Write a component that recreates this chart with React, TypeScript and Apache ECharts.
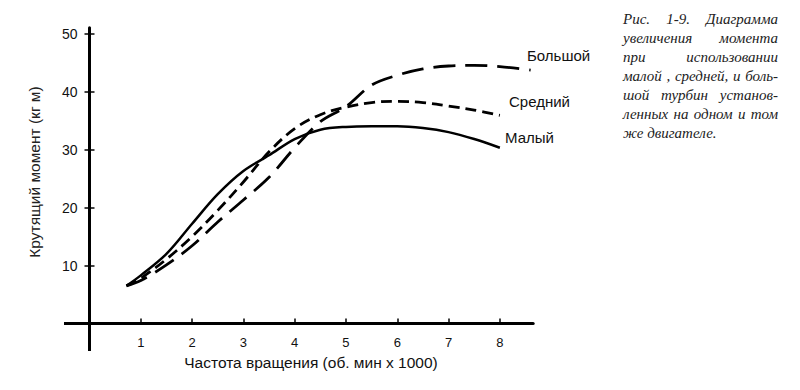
import React, { useEffect, useRef } from "react";
import * as echarts from "echarts";

// Tick labels
const xTicks = [1, 2, 3, 4, 5, 6, 7, 8];
const yTicks = [10, 20, 30, 40, 50];

// Series (x in thousands rpm, y in kg·m)
const xSmall = [0.72, 1, 1.5, 2, 2.5, 3, 3.5, 4, 4.5, 5, 5.5, 6, 6.5, 7, 7.5, 8];
const smallVals = [6.5, 8.3, 12.0, 17.2, 22.3, 26.3, 29.0, 31.8, 33.4, 33.9, 34.0, 34.0, 33.7, 33.0, 31.8, 30.3];

const xMedium = [0.72, 1, 1.5, 2, 2.5, 3, 3.5, 4, 4.5, 5, 5.5, 6, 6.5, 7, 7.5, 8];
const mediumVals = [6.5, 7.8, 11.1, 15.0, 19.5, 24.4, 29.6, 33.6, 36.0, 37.3, 38.1, 38.3, 38.1, 37.5, 36.8, 35.9];

const xLarge = [0.72, 1, 1.5, 2, 2.5, 3, 3.5, 4, 4.5, 5, 5.5, 6, 6.5, 7, 7.5, 8, 8.6];
const largeVals = [6.5, 7.4, 10.1, 13.4, 17.5, 21.3, 25.2, 30.3, 34.8, 37.4, 41.1, 42.8, 43.9, 44.4, 44.5, 44.3, 43.7];

const seriesNames = ["Малый", "Средний", "Большой"];

const captionLines = [
  "Рис. 1-9. Диаграмма",
  "увеличения момента",
  "при использовании",
  "малой , средней, и боль-",
  "шой турбин установ-",
  "ленных на одном и том",
  "же двигателе.",
];

const zip = (xs: number[], ys: number[]) => xs.map((x, i) => [x, ys[i]]);

export default function App() {
  const ref = useRef<HTMLDivElement>(null);

  useEffect(() => {
    if (!ref.current) return;
    const chart = echarts.init(ref.current, null, { renderer: "svg" });

    const sans = "'Liberation Sans', Arial, sans-serif";
    const serif = "'Liberation Serif', 'Times New Roman', serif";
    const capFont = `italic 15px ${serif}`;

    // measure words for justified caption
    const cnv = document.createElement("canvas");
    const ctx = cnv.getContext("2d")!;
    ctx.font = capFont;

    const capLeft = 623;
    const capRight = 778;
    const capTop = 18.5;
    const capStep = 19.1;

    const captionEls: any[] = [];
    captionLines.forEach((line, li) => {
      const y = capTop + li * capStep;
      const style = { fill: "#222", font: capFont, textAlign: "left", textVerticalAlign: "middle" };
      const words = line.split(" ");
      const last = li === captionLines.length - 1;
      if (last || words.length === 1) {
        captionEls.push({ type: "text", x: capLeft, y, style: { ...style, text: line } });
        return;
      }
      const widths = words.map((w) => ctx.measureText(w).width);
      const total = widths.reduce((a, b) => a + b, 0);
      const gap = (capRight - capLeft - total) / (words.length - 1);
      let x = capLeft;
      words.forEach((w, k) => {
        captionEls.push({ type: "text", x, y, style: { ...style, text: w } });
        x += widths[k] + gap;
      });
    });

    const lineBase = { type: "line", smooth: 0.35, showSymbol: false, symbol: "none" };

    const gLeft = 89.5;
    const gBottom = 323.5;

    chart.setOption({
      animation: false,
      backgroundColor: "#ffffff",
      grid: { left: gLeft, top: 27.7, width: 443.7, height: 295.8 },
      xAxis: {
        type: "value",
        min: 0,
        max: 8.65,
        axisLine: { show: true, onZero: false, lineStyle: { color: "#000", width: 3 } },
        axisTick: { show: true, inside: true, length: 5, customValues: xTicks, lineStyle: { color: "#000", width: 1.5 } },
        axisLabel: { show: true, customValues: xTicks, margin: 12, color: "#111", fontFamily: "Liberation Sans", fontSize: 13 },
        splitLine: { show: false },
      },
      yAxis: [
        {
          type: "value",
          min: 0,
          max: 51,
          axisLine: { show: true, onZero: false, lineStyle: { color: "#000", width: 3 } },
          axisTick: { show: true, inside: false, length: 5, customValues: yTicks, lineStyle: { color: "#000", width: 1.5 } },
          axisLabel: { show: true, customValues: yTicks, margin: 12, color: "#111", fontFamily: "Liberation Sans", fontSize: 14 },
          splitLine: { show: false },
        },
        {
          type: "value",
          min: 0,
          max: 51,
          position: "left",
          axisLine: { show: false, onZero: false },
          axisTick: { show: true, inside: true, length: 5, customValues: yTicks, lineStyle: { color: "#000", width: 1.5 } },
          axisLabel: { show: false },
          splitLine: { show: false },
        },
      ],
      series: [
        { ...lineBase, name: seriesNames[0], data: zip(xSmall, smallVals), lineStyle: { color: "#000", width: 2.5, type: "solid" } },
        { ...lineBase, name: seriesNames[1], data: zip(xMedium, mediumVals), lineStyle: { color: "#000", width: 2.8, type: [11, 6] } },
        { ...lineBase, name: seriesNames[2], data: zip(xLarge, largeVals), lineStyle: { color: "#000", width: 2.8, type: [22, 10] } },
      ],
      graphic: [
        // axis extensions beyond origin
        { type: "line", shape: { x1: 64, y1: gBottom, x2: gLeft + 1.5, y2: gBottom }, style: { stroke: "#000", lineWidth: 3 } },
        { type: "line", shape: { x1: gLeft, y1: gBottom - 1.5, x2: gLeft, y2: 351 }, style: { stroke: "#000", lineWidth: 3 } },
        { type: "text", x: 34, y: 172, rotation: Math.PI / 2, style: { text: "Крутящий момент (кг м)", fill: "#222", font: `15.5px ${sans}`, textAlign: "center", textVerticalAlign: "middle" } },
        { type: "text", x: 311, y: 362, style: { text: "Частота вращения (об. мин x 1000)", fill: "#111", font: `15.5px ${sans}`, textAlign: "center", textVerticalAlign: "middle" } },
        { type: "text", x: 527, y: 55, style: { text: seriesNames[2], fill: "#111", font: `15px ${sans}`, textAlign: "left", textVerticalAlign: "middle" } },
        { type: "text", x: 509, y: 101, style: { text: seriesNames[1], fill: "#111", font: `15px ${sans}`, textAlign: "left", textVerticalAlign: "middle" } },
        { type: "text", x: 505, y: 137, style: { text: seriesNames[0], fill: "#111", font: `15px ${sans}`, textAlign: "left", textVerticalAlign: "middle" } },
        ...captionEls,
      ],
    });

    return () => chart.dispose();
  }, []);

  return <div ref={ref} style={{ position: "absolute", left: 0, top: 0, width: 800, height: 390 }} />;
}
